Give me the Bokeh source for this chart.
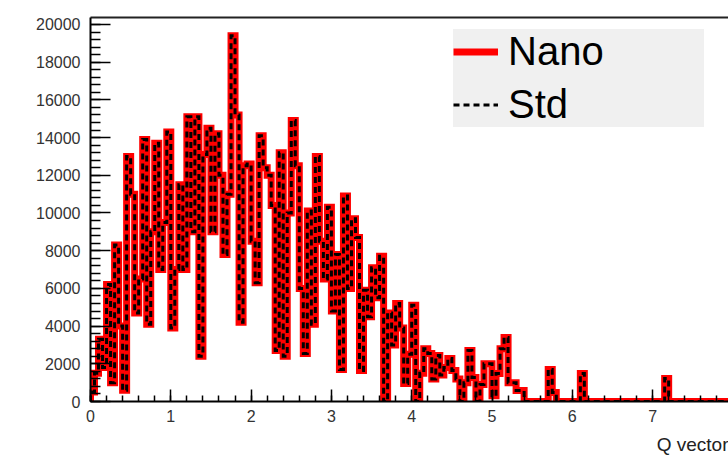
import numpy as np
from bokeh.plotting import figure
from bokeh.models import (LinearAxis, FixedTicker, Title, Legend, LegendItem,
                          Range1d)
from bokeh.embed import file_html
from bokeh.resources import INLINE

# ---- data ----
bin_width = 0.05
nano_counts = [
    500, 1500, 3300, 1800, 6200, 1000, 8300, 4000, 600, 13000,        # 0.0
    11000, 4700, 6500, 13900, 4100, 9000, 13700, 7000, 9500, 14300,   # 0.5
    3900, 7000, 11500, 7000, 15100, 9000, 15100, 2400, 13100, 14500,  # 1.0
    9000, 14200, 12000, 7800, 11000, 19400, 15200, 4200, 12500, 12600,  # 1.5
    8500, 6300, 14100, 12400, 12000, 10400, 2700, 13200, 2400, 10000,  # 2.0
    14900, 12500, 6000, 2550, 10100, 4100, 13000, 8500, 6500, 10300,  # 2.5
    4800, 7800, 1700, 10900, 6000, 9700, 8700, 1650, 5900, 4500,      # 3.0
    7100, 5500, 7700, 0, 4700, 3000, 5200, 3900, 950, 2500,           # 3.5
    5100, 0, 1500, 2800, 2550, 1200, 2440, 1400, 1800, 2280,          # 4.0
    1640, 1200, 0, 1000, 2700, 1270, 0, 900, 2000, 2000,              # 4.5
    300, 1480, 2800, 3400, 1000, 1000, 580, 580, 0, 0,                # 5.0
    0, 0, 0, 0, 1700, 480, 0, 0, 0, 0,                                # 5.5
    0, 0, 1480, 0, 0, 0, 0, 0, 0, 0,                                  # 6.0
    0, 0, 0, 0, 0, 0, 0, 0, 0, 0,                                     # 6.5
    0, 0, 0, 1220, 0, 0, 0, 0, 0, 0,                                  # 7.0
    0, 0, 0, 0, 0, 0, 0, 0, 0, 0,                                     # 7.5
]
std_counts = list(nano_counts)
series_names = ["Nano", "Std"]
x_title = "Q vector"
y_ticks = [0, 2000, 4000, 6000, 8000, 10000, 12000, 14000, 16000, 18000, 20000]
x_ticks = [0, 1, 2, 3, 4, 5, 6, 7, 8]


def step_path(counts, width):
    c = np.asarray(counts, dtype=float)
    edges = np.arange(len(c) + 1) * width
    xs = np.repeat(edges, 2)
    ys = np.concatenate([[0.0], np.repeat(c, 2), [0.0]])
    return xs, ys


FONT = "Liberation Sans"

p = figure(width=728, height=462, output_backend="svg", toolbar_location=None,
           x_range=Range1d(0, 7.945), y_range=Range1d(0, 20370),
           min_border_left=90, min_border_right=0, min_border_top=17,
           min_border_bottom=61)
p.outline_line_color = None
p.xgrid.visible = False
p.ygrid.visible = False
p.background_fill_color = "white"
p.border_fill_color = "white"

xs, ys = step_path(nano_counts, bin_width)
r_nano = p.line(xs, ys, line_color="#ff0000", line_width=7, line_join="miter")
xs2, ys2 = step_path(std_counts, bin_width)
r_std = p.line(xs2, ys2, line_color="black", line_width=3, line_dash="6 4",
               line_join="miter")

# axes
xa = p.xaxis[0]
xa.ticker = FixedTicker(ticks=x_ticks,
                        minor_ticks=[i * 0.2 for i in range(0, 41)])
xa.major_tick_in = 12
xa.major_tick_out = 0
xa.minor_tick_in = 6
xa.minor_tick_out = 0
xa.axis_line_width = 2
xa.major_tick_line_width = 1.5
xa.minor_tick_line_width = 1.5
xa.major_label_text_font = FONT
xa.major_label_text_font_size = "16px"
xa.major_label_text_color = "#333333"
xa.major_label_standoff = 8

ya = p.yaxis[0]
ya.ticker = FixedTicker(ticks=y_ticks,
                        minor_ticks=[i * 400 for i in range(0, 52)])
ya.major_tick_in = 20
ya.major_tick_out = 0
ya.minor_tick_in = 10
ya.minor_tick_out = 0
ya.axis_line_width = 2
ya.major_tick_line_width = 1.5
ya.minor_tick_line_width = 1.5
ya.major_label_text_font = FONT
ya.major_label_text_font_size = "16px"
ya.major_label_text_color = "#333333"
ya.major_label_standoff = 10

top = LinearAxis(ticker=FixedTicker(ticks=[]), axis_line_width=2,
                 axis_line_color="#222222",
                 major_tick_line_color=None, minor_tick_line_color=None,
                 major_label_text_font_size="0px")
p.add_layout(top, "above")

p.add_layout(Title(text=x_title, align="right", text_font=FONT,
                   text_font_size="19px", text_font_style="normal",
                   text_color="#222222", standoff=15), "below")

legend = Legend(items=[LegendItem(label=series_names[0], renderers=[r_nano]),
                       LegendItem(label=series_names[1], renderers=[r_std])],
                location=(363, 274), margin=0, padding=10, spacing=8,
                glyph_width=45, glyph_height=43, label_height=43,
                label_width=196, label_standoff=10,
                label_text_font=FONT, label_text_font_size="40px",
                label_text_color="black", label_text_baseline="middle",
                background_fill_color="#f0f0f0", background_fill_alpha=1.0,
                border_line_color=None)
p.add_layout(legend, "center")

open("out.html", "w").write(file_html(p, INLINE))
